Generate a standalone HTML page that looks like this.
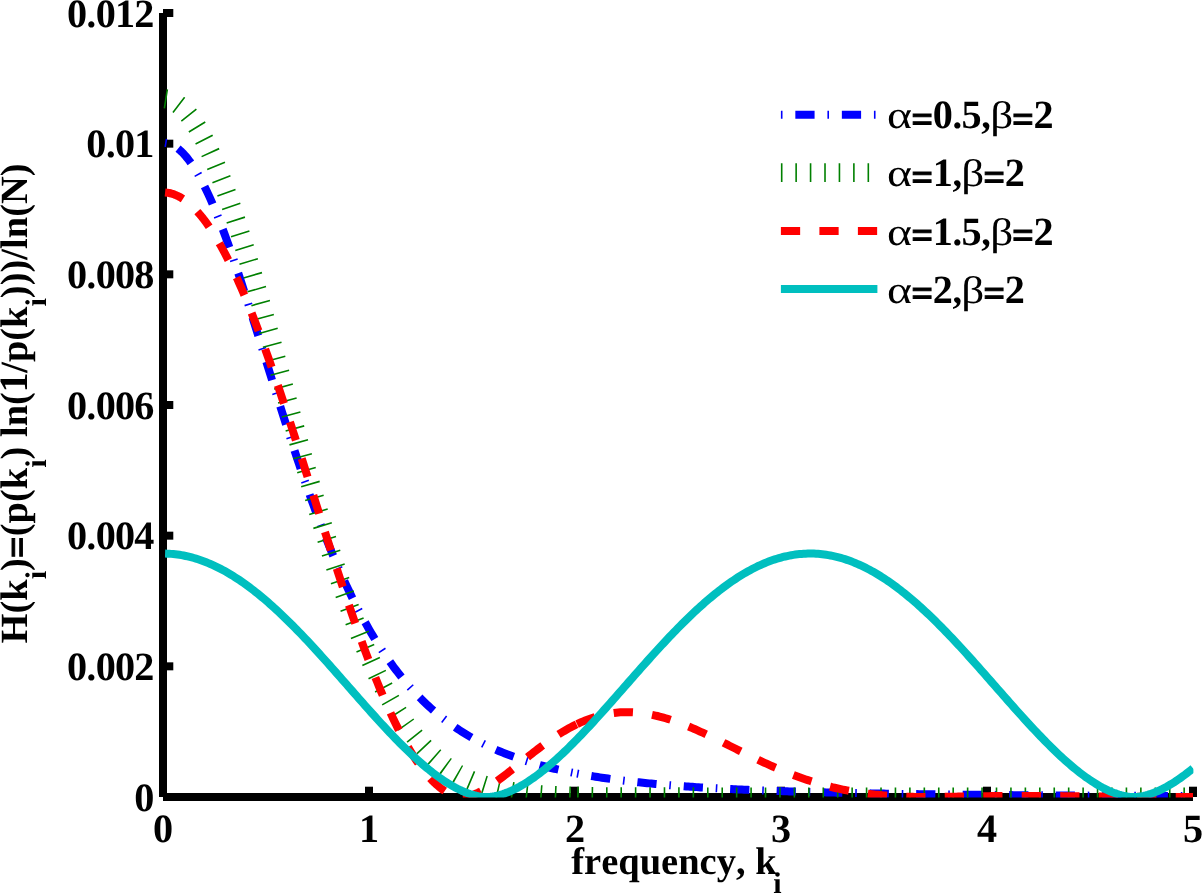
<!DOCTYPE html>
<html><head><meta charset="utf-8"><title>Entropy spectrum</title>
<style>html,body{margin:0;padding:0;background:#fff;}svg{display:block;}text{font-family:"Liberation Serif","DejaVu Serif",serif;font-weight:bold;fill:#000;font-kerning:none;font-variant-ligatures:none;text-rendering:geometricPrecision;}.g{font-weight:normal;}.e{stroke:#000;stroke-width:1.00px;}</style></head><body>
<svg width="1202" height="894" viewBox="0 0 1202 894">
<rect width="1202" height="894" fill="#fff"/>
<defs><clipPath id="c"><rect x="162.5" y="1.0" width="1030.9" height="796.4"/></clipPath></defs>
<g stroke="#000" stroke-width="8.00" fill="none" stroke-linecap="butt">
<path d="M163.0 13.0 V797.0"/>
<path d="M163.0 797.0 H1193.0"/>
<path d="M163.00 797.0 V786.7"/>
<path d="M369.00 797.0 V786.7"/>
<path d="M575.00 797.0 V786.7"/>
<path d="M781.00 797.0 V786.7"/>
<path d="M987.00 797.0 V786.7"/>
<path d="M1193.00 797.0 V786.7"/>
<path d="M163.0 797.00 H173.3"/>
<path d="M163.0 666.33 H173.3"/>
<path d="M163.0 535.67 H173.3"/>
<path d="M163.0 405.00 H173.3"/>
<path d="M163.0 274.33 H173.3"/>
<path d="M163.0 143.67 H173.3"/>
<path d="M163.0 13.00 H173.3"/>
</g>
<g clip-path="url(#c)" fill="none" stroke-linejoin="round" stroke-linecap="butt">
<path d="M165.06,142.79 L167.12,143.13 L169.18,143.69 L171.24,144.48 L173.30,145.49 L175.36,146.72 L177.42,148.17 L179.48,149.84 L181.54,151.72 L183.60,153.82 L185.66,156.13 L187.72,158.64 L189.78,161.36 L191.84,164.29 L193.90,167.40 L195.96,170.72 L198.02,174.22 L200.08,177.91 L202.14,181.77 L204.20,185.81 L206.26,190.03 L208.32,194.40 L210.38,198.94 L212.44,203.64 L214.50,208.48 L216.56,213.46 L218.62,218.59 L220.68,223.84 L222.74,229.22 L224.80,234.73 L226.86,240.34 L228.92,246.07 L230.98,251.89 L233.04,257.81 L235.10,263.82 L237.16,269.92 L239.22,276.09 L241.28,282.33 L243.34,288.64 L245.40,295.00 L247.46,301.42 L249.52,307.89 L251.58,314.39 L253.64,320.94 L255.70,327.51 L257.76,334.11 L259.82,340.72 L261.88,347.35 L263.94,353.99 L266.00,360.64 L268.06,367.28 L270.12,373.91 L272.18,380.54 L274.24,387.14 L276.30,393.73 L278.36,400.30 L280.42,406.84 L282.48,413.34 L284.54,419.81 L286.60,426.24 L288.66,432.63 L290.72,438.98 L292.78,445.27 L294.84,451.51 L296.90,457.70 L298.96,463.83 L301.02,469.91 L303.08,475.92 L305.14,481.87 L307.20,487.75 L309.26,493.56 L311.32,499.31 L313.38,504.98 L315.44,510.59 L317.50,516.12 L319.56,521.57 L321.62,526.95 L323.68,532.26 L325.74,537.48 L327.80,542.63 L329.86,547.70 L331.92,552.69 L333.98,557.61 L336.04,562.44 L338.10,567.20 L340.16,571.87 L342.22,576.47 L344.28,580.98 L346.34,585.42 L348.40,589.78 L350.46,594.06 L352.52,598.27 L354.58,602.39 L356.64,606.44 L358.70,610.41 L360.76,614.31 L362.82,618.13 L364.88,621.88 L366.94,625.55 L369.00,629.15 L371.06,632.68 L373.12,636.14 L375.18,639.53 L377.24,642.84 L379.30,646.09 L381.36,649.28 L383.42,652.39 L385.48,655.44 L387.54,658.43 L389.60,661.35 L391.66,664.21 L393.72,667.01 L395.78,669.75 L397.84,672.43 L399.90,675.05 L401.96,677.62 L404.02,680.13 L406.08,682.58 L408.14,684.98 L410.20,687.33 L412.26,689.62 L414.32,691.86 L416.38,694.06 L418.44,696.20 L420.50,698.30 L422.56,700.35 L424.62,702.35 L426.68,704.31 L428.74,706.22 L430.80,708.09 L432.86,709.92 L434.92,711.71 L436.98,713.46 L439.04,715.16 L441.10,716.83 L443.16,718.46 L445.22,720.06 L447.28,721.61 L449.34,723.14 L451.40,724.63 L453.46,726.08 L455.52,727.50 L457.58,728.89 L459.64,730.25 L461.70,731.57 L463.76,732.87 L465.82,734.14 L467.88,735.38 L469.94,736.59 L472.00,737.77 L474.06,738.93 L476.12,740.06 L478.18,741.17 L480.24,742.25 L482.30,743.30 L484.36,744.34 L486.42,745.35 L488.48,746.33 L490.54,747.30 L492.60,748.24 L494.66,749.17 L496.72,750.07 L498.78,750.95 L500.84,751.81 L502.90,752.66 L504.96,753.48 L507.02,754.29 L509.08,755.08 L511.14,755.85 L513.20,756.61 L515.26,757.35 L517.32,758.07 L519.38,758.78 L521.44,759.47 L523.50,760.15 L525.56,760.81 L527.62,761.46 L529.68,762.09 L531.74,762.72 L533.80,763.32 L535.86,763.92 L537.92,764.50 L539.98,765.07 L542.04,765.63 L544.10,766.18 L546.16,766.71 L548.22,767.23 L550.28,767.75 L552.34,768.25 L554.40,768.74 L556.46,769.22 L558.52,769.69 L560.58,770.16 L562.64,770.61 L564.70,771.05 L566.76,771.49 L568.82,771.91 L570.88,772.33 L572.94,772.74 L575.00,773.14 L577.06,773.53 L577.40,773.59 M577.06,773.53 L579.12,773.91 L581.18,774.29 L583.24,774.66 L585.30,775.02 L587.36,775.38 L589.42,775.72 L591.48,776.06 L593.54,776.40 L595.60,776.73 L597.66,777.05 L599.72,777.36 L601.78,777.67 L603.84,777.98 L605.90,778.27 L607.96,778.56 L610.02,778.85 L612.08,779.13 L614.14,779.41 L616.20,779.68 L618.26,779.94 L620.32,780.20 L622.38,780.46 L624.44,780.71 L626.50,780.95 L628.56,781.19 L630.62,781.43 L632.68,781.66 L634.74,781.89 L636.80,782.11 L638.86,782.33 L640.92,782.55 L642.98,782.76 L645.04,782.97 L647.10,783.17 L649.16,783.37 L651.22,783.57 L653.28,783.76 L655.34,783.95 L657.40,784.14 L659.46,784.32 L661.52,784.50 L663.58,784.68 L665.64,784.85 L667.70,785.02 L669.76,785.19 L671.82,785.36 L673.88,785.52 L675.94,785.68 L678.00,785.83 L680.06,785.99 L682.12,786.14 L684.18,786.29 L686.24,786.43 L688.30,786.58 L690.36,786.72 L692.42,786.86 L694.48,786.99 L696.54,787.13 L698.60,787.26 L700.66,787.39 L702.72,787.52 L704.78,787.64 L706.84,787.77 L708.90,787.89 L710.96,788.01 L713.02,788.12 L715.08,788.24 L717.14,788.35 L719.20,788.46 L721.26,788.57 L723.32,788.68 L725.38,788.79 L727.44,788.89 L729.50,789.00 L731.56,789.10 L733.62,789.20 L735.68,789.30 L737.74,789.39 L739.80,789.49 L741.86,789.58 L743.92,789.67 L745.98,789.77 L748.04,789.86 L750.10,789.94 L752.16,790.03 L754.22,790.12 L756.28,790.20 L758.34,790.28 L760.40,790.36 L762.46,790.44 L764.52,790.52 L766.58,790.60 L768.64,790.68 L770.70,790.75 L772.76,790.83 L774.82,790.90 L776.88,790.97 L778.94,791.04 L781.00,791.11 L783.06,791.18 L785.12,791.25 L787.18,791.32 L789.24,791.38 L791.30,791.45 L793.36,791.51 L795.42,791.58 L797.48,791.64 L799.54,791.70 L801.60,791.76 L803.66,791.82 L805.72,791.88 L807.78,791.94 L809.84,792.00 L811.90,792.05 L813.96,792.11 L816.02,792.16 L818.08,792.22 L820.14,792.27 L822.20,792.32 L824.26,792.37 L826.32,792.42 L828.38,792.48 L830.44,792.52 L832.50,792.57 L834.56,792.62 L836.62,792.67 L838.68,792.72 L840.74,792.76 L842.80,792.81 L844.86,792.85 L846.92,792.90 L848.98,792.94 L851.04,792.99 L853.10,793.03 L855.16,793.07 L857.22,793.11 L859.28,793.15 L861.34,793.19 L863.40,793.23 L865.46,793.27 L867.52,793.31 L869.58,793.35 L871.64,793.39 L873.70,793.43 L875.76,793.46 L877.82,793.50 L879.88,793.54 L881.94,793.57 L884.00,793.61 L886.06,793.64 L888.12,793.67 L890.18,793.71 L892.24,793.74 L894.30,793.77 L896.36,793.81 L898.42,793.84 L900.48,793.87 L902.54,793.90 L904.60,793.93 L906.66,793.96 L908.72,793.99 L910.78,794.02 L912.84,794.05 L914.90,794.08 L916.96,794.11 L919.02,794.14 L921.08,794.17 L923.14,794.19 L925.20,794.22 L927.26,794.25 L929.32,794.27 L931.38,794.30 L933.44,794.33 L935.50,794.35 L937.56,794.38 L939.62,794.40 L941.68,794.43 L943.74,794.45 L945.80,794.48 L947.86,794.50 L949.92,794.52 L951.98,794.55 L954.04,794.57 L956.10,794.59 L958.16,794.61 L960.22,794.64 L962.28,794.66 L964.34,794.68 L966.40,794.70 L968.46,794.72 L970.52,794.74 L972.58,794.76 L974.64,794.78 L976.70,794.81 L978.76,794.83 L980.82,794.84 L982.88,794.86 L984.94,794.88 L987.00,794.90 L989.06,794.92 L991.12,794.94 L993.18,794.96 L995.24,794.98 L997.30,794.99 L999.36,795.01 L1001.42,795.03 L1003.48,795.05 L1005.54,795.07 L1007.60,795.08 L1009.66,795.10 L1011.72,795.12 L1013.78,795.13 L1015.84,795.15 L1017.90,795.16 L1019.96,795.18 L1022.02,795.20 L1024.08,795.21 L1026.14,795.23 L1028.20,795.24 L1030.26,795.26 L1032.32,795.27 L1034.38,795.29 L1036.44,795.30 L1038.50,795.32 L1040.56,795.33 L1042.62,795.34 L1044.68,795.36 L1046.74,795.37 L1048.80,795.39 L1050.86,795.40 L1052.92,795.41 L1054.98,795.43 L1057.04,795.44 L1059.10,795.45 L1061.16,795.47 L1063.22,795.48 L1065.28,795.49 L1067.34,795.50 L1069.40,795.52 L1071.46,795.53 L1073.52,795.54 L1075.58,795.55 L1077.64,795.56 L1079.70,795.58 L1081.76,795.59 L1083.82,795.60 L1085.88,795.61 L1087.94,795.62 L1090.00,795.63 L1092.06,795.64 L1094.12,795.65 L1096.18,795.66 L1098.24,795.68 L1100.30,795.69 L1102.36,795.70 L1104.42,795.71 L1106.48,795.72 L1108.54,795.73 L1110.60,795.74 L1112.66,795.75 L1114.72,795.76 L1116.78,795.77 L1118.84,795.78 L1120.90,795.79 L1122.96,795.80 L1125.02,795.81 L1127.08,795.81 L1129.14,795.82 L1131.20,795.83 L1133.26,795.84 L1135.32,795.85 L1137.38,795.86 L1139.44,795.87 L1141.50,795.88 L1143.56,795.89 L1145.62,795.89 L1147.68,795.90 L1149.74,795.91 L1151.80,795.92 L1153.86,795.93 L1155.92,795.94 L1157.98,795.94 L1160.04,795.95 L1162.10,795.96 L1164.16,795.97 L1166.22,795.97 L1168.28,795.98 L1170.34,795.99 L1172.40,796.00 L1174.46,796.00 L1176.52,796.01 L1178.58,796.02 L1180.64,796.03 L1182.70,796.03 L1184.76,796.04 L1186.82,796.05 L1188.88,796.05 L1190.94,796.06 L1193.00,796.07" stroke="#0000ff" stroke-width="8.00" stroke-dasharray="1.604 12.832 19.248 12.832"/>
<path d="M165.06,98.71 L167.12,99.03 L169.18,99.56 L171.24,100.30 L173.30,101.25 L175.36,102.41 L177.42,103.78 L179.48,105.35 L181.54,107.13 L183.60,109.12 L185.66,111.31 L187.72,113.70 L189.78,116.29 L191.84,119.08 L193.90,122.06 L195.96,125.24 L198.02,128.60 L200.08,132.16 L202.14,135.89 L204.20,139.81 L206.26,143.91 L208.32,148.18 L210.38,152.63 L212.44,157.24 L214.50,162.02 L216.56,166.95 L218.62,172.05 L220.68,177.29 L222.74,182.69 L224.80,188.23 L226.86,193.91 L228.92,199.72 L230.98,205.67 L233.04,211.74 L235.10,217.94 L237.16,224.25 L239.22,230.67 L241.28,237.20 L243.34,243.84 L245.40,250.57 L247.46,257.39 L249.52,264.30 L251.58,271.29 L253.64,278.37 L255.70,285.51 L257.76,292.72 L259.82,299.99 L261.88,307.31 L263.94,314.69 L266.00,322.12 L268.06,329.58 L270.12,337.09 L272.18,344.62 L274.24,352.18 L276.30,359.76 L278.36,367.35 L280.42,374.96 L282.48,382.57 L284.54,390.18 L286.60,397.79 L288.66,405.39 L290.72,412.98 L292.78,420.55 L294.84,428.10 L296.90,435.62 L298.96,443.11 L301.02,450.57 L303.08,457.98 L305.14,465.36 L307.20,472.69 L309.26,479.96 L311.32,487.19 L313.38,494.35 L315.44,501.46 L317.50,508.50 L319.56,515.47 L321.62,522.38 L323.68,529.21 L325.74,535.96 L327.80,542.64 L329.86,549.23 L331.92,555.74 L333.98,562.17 L336.04,568.50 L338.10,574.75 L340.16,580.90 L342.22,586.96 L344.28,592.93 L346.34,598.80 L348.40,604.57 L350.46,610.25 L352.52,615.82 L354.58,621.29 L356.64,626.66 L358.70,631.93 L360.76,637.09 L362.82,642.15 L364.88,647.11 L366.94,651.96 L369.00,656.71 L371.06,661.35 L373.12,665.89 L375.18,670.33 L377.24,674.66 L379.30,678.89 L381.36,683.02 L383.42,687.04 L385.48,690.96 L387.54,694.79 L389.60,698.51 L391.66,702.13 L393.72,705.65 L395.78,709.08 L397.84,712.41 L399.90,715.65 L401.96,718.79 L404.02,721.84 L406.08,724.80 L408.14,727.67 L410.20,730.46 L412.26,733.15 L414.32,735.76 L416.38,738.29 L418.44,740.73 L420.50,743.10 L422.56,745.38 L424.62,747.59 L426.68,749.72 L428.74,751.78 L430.80,753.76 L432.86,755.67 L434.92,757.52 L436.98,759.30 L439.04,761.01 L441.10,762.66 L443.16,764.24 L445.22,765.77 L447.28,767.23 L449.34,768.64 L451.40,769.99 L453.46,771.29 L455.52,772.53 L457.58,773.73 L459.64,774.87 L461.70,775.97 L463.76,777.02 L465.82,778.03 L467.88,778.99 L469.94,779.91 L472.00,780.79 L474.06,781.63 L476.12,782.43 L478.18,783.20 L480.24,783.93 L482.30,784.63 L484.36,785.29 L486.42,785.93 L488.48,786.53 L490.54,787.10 L492.60,787.65 L494.66,788.17 L496.72,788.67 L498.78,789.14 L500.84,789.58 L502.90,790.01 L504.96,790.41 L507.02,790.79 L509.08,791.16 L511.14,791.50 L513.20,791.82 L515.26,792.13 L517.32,792.42 L519.38,792.70 L521.44,792.96 L523.50,793.21 L525.56,793.44 L527.62,793.66 L529.68,793.87 L531.74,794.06 L533.80,794.25 L535.86,794.42 L537.92,794.59 L539.98,794.74 L542.04,794.89 L544.10,795.02 L546.16,795.15 L548.22,795.27 L550.28,795.39 L552.34,795.49 L554.40,795.60 L556.46,795.69 L558.52,795.78 L560.58,795.86 L562.64,795.94 L564.70,796.01 L566.76,796.08 L568.82,796.14 L570.88,796.20 L572.94,796.26 L575.00,796.31 L577.06,796.36 L577.41,796.37 M577.06,796.36 L579.12,796.41 L581.18,796.45 L583.24,796.49 L585.30,796.53 L587.36,796.56 L589.42,796.59 L591.48,796.62 L593.54,796.65 L595.60,796.68 L597.66,796.70 L599.72,796.72 L601.78,796.74 L603.84,796.76 L605.90,796.78 L607.96,796.80 L610.02,796.81 L612.08,796.83 L614.14,796.84 L616.20,796.85 L618.26,796.87 L620.32,796.88 L622.38,796.89 L624.44,796.90 L626.50,796.90 L628.56,796.91 L630.62,796.92 L632.68,796.92 L634.74,796.93 L636.80,796.94 L638.86,796.94 L640.92,796.95 L642.98,796.95 L645.04,796.96 L647.10,796.96 L649.16,796.96 L651.22,796.97 L653.28,796.97 L655.34,796.97 L657.40,796.97 L659.46,796.98 L661.52,796.98 L663.58,796.98 L665.64,796.98 L667.70,796.98 L669.76,796.98 L671.82,796.99 L673.88,796.99 L675.94,796.99 L678.00,796.99 L680.06,796.99 L682.12,796.99 L684.18,796.99 L686.24,796.99 L688.30,796.99 L690.36,796.99 L692.42,796.99 L694.48,797.00 L696.54,797.00 L698.60,797.00 L700.66,797.00 L702.72,797.00 L704.78,797.00 L706.84,797.00 L708.90,797.00 L710.96,797.00 L713.02,797.00 L715.08,797.00 L717.14,797.00 L719.20,797.00 L721.26,797.00 L723.32,797.00 L725.38,797.00 L727.44,797.00 L729.50,797.00 L731.56,797.00 L733.62,797.00 L735.68,797.00 L737.74,797.00 L739.80,797.00 L741.86,797.00 L743.92,797.00 L745.98,797.00 L748.04,797.00 L750.10,797.00 L752.16,797.00 L754.22,797.00 L756.28,797.00 L758.34,797.00 L760.40,797.00 L762.46,797.00 L764.52,797.00 L766.58,797.00 L768.64,797.00 L770.70,797.00 L772.76,797.00 L774.82,797.00 L776.88,797.00 L778.94,797.00 L781.00,797.00 L783.06,797.00 L785.12,797.00 L787.18,797.00 L789.24,797.00 L791.30,797.00 L793.36,797.00 L795.42,797.00 L797.48,797.00 L799.54,797.00 L801.60,797.00 L803.66,797.00 L805.72,797.00 L807.78,797.00 L809.84,797.00 L811.90,797.00 L813.96,797.00 L816.02,797.00 L818.08,797.00 L820.14,797.00 L822.20,797.00 L824.26,797.00 L826.32,797.00 L828.38,797.00 L830.44,797.00 L832.50,797.00 L834.56,797.00 L836.62,797.00 L838.68,797.00 L840.74,797.00 L842.80,797.00 L844.86,797.00 L846.92,797.00 L848.98,797.00 L851.04,797.00 L853.10,797.00 L855.16,797.00 L857.22,797.00 L859.28,797.00 L861.34,797.00 L863.40,797.00 L865.46,797.00 L867.52,797.00 L869.58,797.00 L871.64,797.00 L873.70,797.00 L875.76,797.00 L877.82,797.00 L879.88,797.00 L881.94,797.00 L884.00,797.00 L886.06,797.00 L888.12,797.00 L890.18,797.00 L892.24,797.00 L894.30,797.00 L896.36,797.00 L898.42,797.00 L900.48,797.00 L902.54,797.00 L904.60,797.00 L906.66,797.00 L908.72,797.00 L910.78,797.00 L912.84,797.00 L914.90,797.00 L916.96,797.00 L919.02,797.00 L921.08,797.00 L923.14,797.00 L925.20,797.00 L927.26,797.00 L929.32,797.00 L931.38,797.00 L933.44,797.00 L935.50,797.00 L937.56,797.00 L939.62,797.00 L941.68,797.00 L943.74,797.00 L945.80,797.00 L947.86,797.00 L949.92,797.00 L951.98,797.00 L954.04,797.00 L956.10,797.00 L958.16,797.00 L960.22,797.00 L962.28,797.00 L964.34,797.00 L966.40,797.00 L968.46,797.00 L970.52,797.00 L972.58,797.00 L974.64,797.00 L976.70,797.00 L978.76,797.00 L980.82,797.00 L982.88,797.00 L984.94,797.00 L987.00,797.00 L989.06,797.00 L991.12,797.00 L993.18,797.00 L995.24,797.00 L997.30,797.00 L999.36,797.00 L1001.42,797.00 L1003.48,797.00 L1005.54,797.00 L1007.60,797.00 L1009.66,797.00 L1011.72,797.00 L1013.78,797.00 L1015.84,797.00 L1017.90,797.00 L1019.96,797.00 L1022.02,797.00 L1024.08,797.00 L1026.14,797.00 L1028.20,797.00 L1030.26,797.00 L1032.32,797.00 L1034.38,797.00 L1036.44,797.00 L1038.50,797.00 L1040.56,797.00 L1042.62,797.00 L1044.68,797.00 L1046.74,797.00 L1048.80,797.00 L1050.86,797.00 L1052.92,797.00 L1054.98,797.00 L1057.04,797.00 L1059.10,797.00 L1061.16,797.00 L1063.22,797.00 L1065.28,797.00 L1067.34,797.00 L1069.40,797.00 L1071.46,797.00 L1073.52,797.00 L1075.58,797.00 L1077.64,797.00 L1079.70,797.00 L1081.76,797.00 L1083.82,797.00 L1085.88,797.00 L1087.94,797.00 L1090.00,797.00 L1092.06,797.00 L1094.12,797.00 L1096.18,797.00 L1098.24,797.00 L1100.30,797.00 L1102.36,797.00 L1104.42,797.00 L1106.48,797.00 L1108.54,797.00 L1110.60,797.00 L1112.66,797.00 L1114.72,797.00 L1116.78,797.00 L1118.84,797.00 L1120.90,797.00 L1122.96,797.00 L1125.02,797.00 L1127.08,797.00 L1129.14,797.00 L1131.20,797.00 L1133.26,797.00 L1135.32,797.00 L1137.38,797.00 L1139.44,797.00 L1141.50,797.00 L1143.56,797.00 L1145.62,797.00 L1147.68,797.00 L1149.74,797.00 L1151.80,797.00 L1153.86,797.00 L1155.92,797.00 L1157.98,797.00 L1160.04,797.00 L1162.10,797.00 L1164.16,797.00 L1166.22,797.00 L1168.28,797.00 L1170.34,797.00 L1172.40,797.00 L1174.46,797.00 L1176.52,797.00 L1178.58,797.00 L1180.64,797.00 L1182.70,797.00 L1184.76,797.00 L1186.82,797.00 L1188.88,797.00 L1190.94,797.00 L1193.00,797.00" stroke="#008000" stroke-width="19.25" stroke-dasharray="1.604 12.832"/>
<path d="M165.06,192.45 L167.12,192.66 L169.18,193.00 L171.24,193.49 L173.30,194.12 L175.36,194.89 L177.42,195.80 L179.48,196.84 L181.54,198.02 L183.60,199.34 L185.66,200.80 L187.72,202.39 L189.78,204.12 L191.84,205.98 L193.90,207.97 L195.96,210.10 L198.02,212.36 L200.08,214.75 L202.14,217.27 L204.20,219.92 L206.26,222.70 L208.32,225.60 L210.38,228.63 L212.44,231.78 L214.50,235.06 L216.56,238.45 L218.62,241.97 L220.68,245.60 L222.74,249.34 L224.80,253.21 L226.86,257.18 L228.92,261.26 L230.98,265.46 L233.04,269.76 L235.10,274.16 L237.16,278.67 L239.22,283.28 L241.28,287.98 L243.34,292.79 L245.40,297.69 L247.46,302.67 L249.52,307.75 L251.58,312.92 L253.64,318.17 L255.70,323.51 L257.76,328.92 L259.82,334.41 L261.88,339.98 L263.94,345.62 L266.00,351.33 L268.06,357.11 L270.12,362.95 L272.18,368.85 L274.24,374.81 L276.30,380.83 L278.36,386.90 L280.42,393.02 L282.48,399.19 L284.54,405.40 L286.60,411.65 L288.66,417.95 L290.72,424.28 L292.78,430.64 L294.84,437.03 L296.90,443.45 L298.96,449.89 L301.02,456.35 L303.08,462.83 L305.14,469.33 L307.20,475.83 L309.26,482.35 L311.32,488.86 L313.38,495.39 L315.44,501.91 L317.50,508.42 L319.56,514.93 L321.62,521.43 L323.68,527.91 L325.74,534.38 L327.80,540.83 L329.86,547.26 L331.92,553.66 L333.98,560.03 L336.04,566.37 L338.10,572.68 L340.16,578.94 L342.22,585.17 L344.28,591.36 L346.34,597.49 L348.40,603.58 L350.46,609.62 L352.52,615.60 L354.58,621.52 L356.64,627.39 L358.70,633.19 L360.76,638.92 L362.82,644.59 L364.88,650.18 L366.94,655.70 L369.00,661.15 L371.06,666.52 L373.12,671.80 L375.18,677.01 L377.24,682.13 L379.30,687.16 L381.36,692.10 L383.42,696.94 L385.48,701.70 L387.54,706.36 L389.60,710.92 L391.66,715.38 L393.72,719.74 L395.78,723.99 L397.84,728.14 L399.90,732.19 L401.96,736.12 L404.02,739.94 L406.08,743.65 L408.14,747.25 L410.20,750.74 L412.26,754.11 L414.32,757.36 L416.38,760.49 L418.44,763.50 L420.50,766.39 L422.56,769.16 L424.62,771.81 L426.68,774.33 L428.74,776.73 L430.80,779.00 L432.86,781.14 L434.92,783.16 L436.98,785.05 L439.04,786.80 L441.10,788.43 L443.16,789.92 L445.22,791.28 L447.28,792.50 L449.34,793.58 L451.40,794.53 L453.46,795.33 L455.52,795.98 L457.58,796.48 L459.64,796.83 L461.70,796.99 L463.76,796.94 L465.82,796.70 L467.88,796.31 L469.94,795.79 L472.00,795.15 L474.06,794.40 L476.12,793.56 L478.18,792.63 L480.24,791.62 L482.30,790.53 L484.36,789.38 L486.42,788.16 L488.48,786.88 L490.54,785.55 L492.60,784.17 L494.66,782.75 L496.72,781.29 L498.78,779.80 L500.84,778.27 L502.90,776.72 L504.96,775.14 L507.02,773.54 L509.08,771.93 L511.14,770.29 L513.20,768.65 L515.26,767.00 L517.32,765.35 L519.38,763.69 L521.44,762.03 L523.50,760.37 L525.56,758.72 L527.62,757.08 L529.68,755.44 L531.74,753.81 L533.80,752.20 L535.86,750.60 L537.92,749.02 L539.98,747.46 L542.04,745.92 L544.10,744.40 L546.16,742.90 L548.22,741.43 L550.28,739.98 L552.34,738.57 L554.40,737.18 L556.46,735.82 L558.52,734.49 L560.58,733.20 L562.64,731.93 L564.70,730.71 L566.76,729.51 L568.82,728.35 L570.88,727.23 L572.94,726.15 L575.00,725.10 L577.06,724.10 L577.38,723.95 M577.06,724.10 L579.12,723.13 L581.18,722.20 L583.24,721.31 L585.30,720.46 L587.36,719.66 L589.42,718.89 L591.48,718.16 L593.54,717.48 L595.60,716.84 L597.66,716.24 L599.72,715.68 L601.78,715.16 L603.84,714.68 L605.90,714.25 L607.96,713.86 L610.02,713.51 L612.08,713.19 L614.14,712.93 L616.20,712.70 L618.26,712.51 L620.32,712.36 L622.38,712.25 L624.44,712.18 L626.50,712.15 L628.56,712.16 L630.62,712.21 L632.68,712.29 L634.74,712.41 L636.80,712.57 L638.86,712.76 L640.92,712.99 L642.98,713.25 L645.04,713.55 L647.10,713.88 L649.16,714.24 L651.22,714.64 L653.28,715.07 L655.34,715.53 L657.40,716.01 L659.46,716.53 L661.52,717.08 L663.58,717.65 L665.64,718.25 L667.70,718.88 L669.76,719.53 L671.82,720.20 L673.88,720.90 L675.94,721.63 L678.00,722.37 L680.06,723.14 L682.12,723.92 L684.18,724.73 L686.24,725.55 L688.30,726.40 L690.36,727.26 L692.42,728.13 L694.48,729.02 L696.54,729.93 L698.60,730.85 L700.66,731.78 L702.72,732.72 L704.78,733.68 L706.84,734.64 L708.90,735.62 L710.96,736.60 L713.02,737.59 L715.08,738.59 L717.14,739.59 L719.20,740.60 L721.26,741.62 L723.32,742.64 L725.38,743.66 L727.44,744.68 L729.50,745.71 L731.56,746.73 L733.62,747.76 L735.68,748.79 L737.74,749.81 L739.80,750.84 L741.86,751.86 L743.92,752.88 L745.98,753.89 L748.04,754.90 L750.10,755.91 L752.16,756.91 L754.22,757.90 L756.28,758.89 L758.34,759.87 L760.40,760.84 L762.46,761.80 L764.52,762.76 L766.58,763.71 L768.64,764.64 L770.70,765.57 L772.76,766.49 L774.82,767.39 L776.88,768.29 L778.94,769.17 L781.00,770.04 L783.06,770.90 L785.12,771.74 L787.18,772.58 L789.24,773.40 L791.30,774.20 L793.36,774.99 L795.42,775.77 L797.48,776.54 L799.54,777.29 L801.60,778.02 L803.66,778.75 L805.72,779.45 L807.78,780.14 L809.84,780.82 L811.90,781.48 L813.96,782.13 L816.02,782.76 L818.08,783.38 L820.14,783.98 L822.20,784.56 L824.26,785.13 L826.32,785.69 L828.38,786.23 L830.44,786.75 L832.50,787.26 L834.56,787.75 L836.62,788.23 L838.68,788.69 L840.74,789.14 L842.80,789.58 L844.86,789.99 L846.92,790.40 L848.98,790.79 L851.04,791.16 L853.10,791.53 L855.16,791.87 L857.22,792.21 L859.28,792.53 L861.34,792.83 L863.40,793.13 L865.46,793.41 L867.52,793.68 L869.58,793.93 L871.64,794.18 L873.70,794.41 L875.76,794.63 L877.82,794.83 L879.88,795.03 L881.94,795.22 L884.00,795.39 L886.06,795.55 L888.12,795.71 L890.18,795.85 L892.24,795.98 L894.30,796.11 L896.36,796.22 L898.42,796.33 L900.48,796.43 L902.54,796.51 L904.60,796.60 L906.66,796.67 L908.72,796.73 L910.78,796.79 L912.84,796.84 L914.90,796.88 L916.96,796.92 L919.02,796.95 L921.08,796.97 L923.14,796.99 L925.20,797.00 L927.26,797.00 L929.32,797.00 L931.38,796.99 L933.44,796.97 L935.50,796.96 L937.56,796.94 L939.62,796.91 L941.68,796.89 L943.74,796.86 L945.80,796.83 L947.86,796.79 L949.92,796.76 L951.98,796.73 L954.04,796.69 L956.10,796.66 L958.16,796.62 L960.22,796.58 L962.28,796.55 L964.34,796.51 L966.40,796.47 L968.46,796.44 L970.52,796.40 L972.58,796.37 L974.64,796.34 L976.70,796.30 L978.76,796.27 L980.82,796.24 L982.88,796.21 L984.94,796.18 L987.00,796.16 L989.06,796.13 L991.12,796.11 L993.18,796.08 L995.24,796.06 L997.30,796.04 L999.36,796.02 L1001.42,796.01 L1003.48,795.99 L1005.54,795.98 L1007.60,795.97 L1009.66,795.95 L1011.72,795.94 L1013.78,795.94 L1015.84,795.93 L1017.90,795.93 L1019.96,795.92 L1022.02,795.92 L1024.08,795.92 L1026.14,795.92 L1028.20,795.92 L1030.26,795.92 L1032.32,795.93 L1034.38,795.94 L1036.44,795.94 L1038.50,795.95 L1040.56,795.96 L1042.62,795.97 L1044.68,795.98 L1046.74,796.00 L1048.80,796.01 L1050.86,796.02 L1052.92,796.04 L1054.98,796.05 L1057.04,796.07 L1059.10,796.09 L1061.16,796.11 L1063.22,796.13 L1065.28,796.15 L1067.34,796.17 L1069.40,796.19 L1071.46,796.21 L1073.52,796.23 L1075.58,796.25 L1077.64,796.27 L1079.70,796.30 L1081.76,796.32 L1083.82,796.34 L1085.88,796.36 L1087.94,796.39 L1090.00,796.41 L1092.06,796.43 L1094.12,796.45 L1096.18,796.48 L1098.24,796.50 L1100.30,796.52 L1102.36,796.54 L1104.42,796.57 L1106.48,796.59 L1108.54,796.61 L1110.60,796.63 L1112.66,796.65 L1114.72,796.67 L1116.78,796.69 L1118.84,796.71 L1120.90,796.73 L1122.96,796.75 L1125.02,796.76 L1127.08,796.78 L1129.14,796.80 L1131.20,796.81 L1133.26,796.83 L1135.32,796.84 L1137.38,796.86 L1139.44,796.87 L1141.50,796.89 L1143.56,796.90 L1145.62,796.91 L1147.68,796.92 L1149.74,796.93 L1151.80,796.94 L1153.86,796.95 L1155.92,796.96 L1157.98,796.97 L1160.04,796.97 L1162.10,796.98 L1164.16,796.98 L1166.22,796.99 L1168.28,796.99 L1170.34,797.00 L1172.40,797.00 L1174.46,797.00 L1176.52,797.00 L1178.58,797.00 L1180.64,797.00 L1182.70,797.00 L1184.76,796.99 L1186.82,796.99 L1188.88,796.99 L1190.94,796.98 L1193.00,796.98 M575.17,725.02 L576.61,724.32" stroke="#ff0000" stroke-width="8.00" stroke-dasharray="19.248 19.248"/>
<path d="M165.06,553.58 L167.12,553.64 L169.18,553.74 L171.24,553.88 L173.30,554.05 L175.36,554.27 L177.42,554.53 L179.48,554.83 L181.54,555.17 L183.60,555.54 L185.66,555.96 L187.72,556.41 L189.78,556.91 L191.84,557.44 L193.90,558.01 L195.96,558.62 L198.02,559.27 L200.08,559.96 L202.14,560.68 L204.20,561.44 L206.26,562.24 L208.32,563.08 L210.38,563.96 L212.44,564.87 L214.50,565.82 L216.56,566.80 L218.62,567.82 L220.68,568.88 L222.74,569.97 L224.80,571.10 L226.86,572.27 L228.92,573.46 L230.98,574.70 L233.04,575.96 L235.10,577.26 L237.16,578.60 L239.22,579.96 L241.28,581.36 L243.34,582.79 L245.40,584.26 L247.46,585.75 L249.52,587.28 L251.58,588.84 L253.64,590.42 L255.70,592.04 L257.76,593.68 L259.82,595.36 L261.88,597.06 L263.94,598.79 L266.00,600.55 L268.06,602.34 L270.12,604.15 L272.18,605.98 L274.24,607.85 L276.30,609.73 L278.36,611.64 L280.42,613.58 L282.48,615.54 L284.54,617.52 L286.60,619.52 L288.66,621.54 L290.72,623.59 L292.78,625.65 L294.84,627.74 L296.90,629.84 L298.96,631.96 L301.02,634.10 L303.08,636.25 L305.14,638.43 L307.20,640.61 L309.26,642.82 L311.32,645.03 L313.38,647.26 L315.44,649.51 L317.50,651.76 L319.56,654.03 L321.62,656.31 L323.68,658.60 L325.74,660.89 L327.80,663.20 L329.86,665.51 L331.92,667.84 L333.98,670.16 L336.04,672.49 L338.10,674.83 L340.16,677.17 L342.22,679.52 L344.28,681.86 L346.34,684.21 L348.40,686.56 L350.46,688.91 L352.52,691.26 L354.58,693.61 L356.64,695.95 L358.70,698.29 L360.76,700.63 L362.82,702.96 L364.88,705.29 L366.94,707.61 L369.00,709.92 L371.06,712.22 L373.12,714.51 L375.18,716.80 L377.24,719.07 L379.30,721.33 L381.36,723.58 L383.42,725.81 L385.48,728.03 L387.54,730.23 L389.60,732.42 L391.66,734.59 L393.72,736.74 L395.78,738.87 L397.84,740.98 L399.90,743.07 L401.96,745.13 L404.02,747.18 L406.08,749.20 L408.14,751.19 L410.20,753.16 L412.26,755.10 L414.32,757.01 L416.38,758.89 L418.44,760.75 L420.50,762.57 L422.56,764.36 L424.62,766.11 L426.68,767.84 L428.74,769.52 L430.80,771.17 L432.86,772.78 L434.92,774.36 L436.98,775.89 L439.04,777.38 L441.10,778.83 L443.16,780.24 L445.22,781.60 L447.28,782.92 L449.34,784.18 L451.40,785.40 L453.46,786.58 L455.52,787.69 L457.58,788.76 L459.64,789.77 L461.70,790.73 L463.76,791.62 L465.82,792.46 L467.88,793.24 L469.94,793.95 L472.00,794.60 L474.06,795.18 L476.12,795.69 L478.18,796.12 L480.24,796.48 L482.30,796.75 L484.36,796.92 L486.42,797.00 L488.48,796.94 L490.54,796.78 L492.60,796.52 L494.66,796.18 L496.72,795.76 L498.78,795.27 L500.84,794.70 L502.90,794.06 L504.96,793.36 L507.02,792.59 L509.08,791.76 L511.14,790.87 L513.20,789.93 L515.26,788.92 L517.32,787.87 L519.38,786.76 L521.44,785.59 L523.50,784.38 L525.56,783.12 L527.62,781.81 L529.68,780.46 L531.74,779.06 L533.80,777.62 L535.86,776.13 L537.92,774.60 L539.98,773.04 L542.04,771.43 L544.10,769.79 L546.16,768.11 L548.22,766.39 L550.28,764.64 L552.34,762.86 L554.40,761.04 L556.46,759.19 L558.52,757.31 L560.58,755.40 L562.64,753.47 L564.70,751.50 L566.76,749.51 L568.82,747.50 L570.88,745.46 L572.94,743.40 L575.00,741.31 L577.06,739.20 L579.12,737.08 L581.18,734.93 L583.24,732.76 L585.30,730.58 L587.36,728.38 L589.42,726.16 L591.48,723.93 L593.54,721.69 L595.60,719.43 L597.66,717.16 L599.72,714.88 L601.78,712.59 L603.84,710.28 L605.90,707.97 L607.96,705.66 L610.02,703.33 L612.08,701.00 L614.14,698.66 L616.20,696.32 L618.26,693.98 L620.32,691.63 L622.38,689.29 L624.44,686.94 L626.50,684.59 L628.56,682.24 L630.62,679.89 L632.68,677.55 L634.74,675.20 L636.80,672.87 L638.86,670.53 L640.92,668.21 L642.98,665.88 L645.04,663.57 L647.10,661.26 L649.16,658.96 L651.22,656.67 L653.28,654.39 L655.34,652.12 L657.40,649.87 L659.46,647.62 L661.52,645.39 L663.58,643.17 L665.64,640.96 L667.70,638.77 L669.76,636.60 L671.82,634.44 L673.88,632.30 L675.94,630.18 L678.00,628.07 L680.06,625.98 L682.12,623.91 L684.18,621.87 L686.24,619.84 L688.30,617.83 L690.36,615.85 L692.42,613.89 L694.48,611.95 L696.54,610.04 L698.60,608.14 L700.66,606.28 L702.72,604.44 L704.78,602.62 L706.84,600.83 L708.90,599.07 L710.96,597.34 L713.02,595.63 L715.08,593.95 L717.14,592.30 L719.20,590.68 L721.26,589.09 L723.32,587.52 L725.38,585.99 L727.44,584.49 L729.50,583.03 L731.56,581.59 L733.62,580.18 L735.68,578.81 L737.74,577.47 L739.80,576.17 L741.86,574.90 L743.92,573.66 L745.98,572.45 L748.04,571.28 L750.10,570.15 L752.16,569.05 L754.22,567.99 L756.28,566.96 L758.34,565.97 L760.40,565.02 L762.46,564.10 L764.52,563.22 L766.58,562.37 L768.64,561.57 L770.70,560.80 L772.76,560.07 L774.82,559.38 L776.88,558.72 L778.94,558.10 L781.00,557.53 L783.06,556.99 L785.12,556.49 L787.18,556.03 L789.24,555.61 L791.30,555.22 L793.36,554.88 L795.42,554.58 L797.48,554.31 L799.54,554.09 L801.60,553.90 L803.66,553.76 L805.72,553.65 L807.78,553.58 L809.84,553.56 L811.90,553.57 L813.96,553.62 L816.02,553.72 L818.08,553.85 L820.14,554.02 L822.20,554.24 L824.26,554.49 L826.32,554.78 L828.38,555.11 L830.44,555.48 L832.50,555.89 L834.56,556.34 L836.62,556.82 L838.68,557.35 L840.74,557.92 L842.80,558.52 L844.86,559.16 L846.92,559.84 L848.98,560.56 L851.04,561.32 L853.10,562.11 L855.16,562.94 L857.22,563.81 L859.28,564.72 L861.34,565.66 L863.40,566.64 L865.46,567.66 L867.52,568.71 L869.58,569.80 L871.64,570.92 L873.70,572.08 L875.76,573.27 L877.82,574.50 L879.88,575.76 L881.94,577.05 L884.00,578.38 L886.06,579.74 L888.12,581.14 L890.18,582.56 L892.24,584.02 L894.30,585.51 L896.36,587.03 L898.42,588.59 L900.48,590.17 L902.54,591.78 L904.60,593.42 L906.66,595.09 L908.72,596.79 L910.78,598.51 L912.84,600.27 L914.90,602.05 L916.96,603.86 L919.02,605.69 L921.08,607.55 L923.14,609.43 L925.20,611.34 L927.26,613.27 L929.32,615.22 L931.38,617.20 L933.44,619.20 L935.50,621.22 L937.56,623.26 L939.62,625.32 L941.68,627.40 L943.74,629.50 L945.80,631.62 L947.86,633.76 L949.92,635.91 L951.98,638.08 L954.04,640.27 L956.10,642.47 L958.16,644.68 L960.22,646.91 L962.28,649.15 L964.34,651.40 L966.40,653.67 L968.46,655.95 L970.52,658.23 L972.58,660.53 L974.64,662.83 L976.70,665.15 L978.76,667.46 L980.82,669.79 L982.88,672.12 L984.94,674.46 L987.00,676.80 L989.06,679.14 L991.12,681.49 L993.18,683.84 L995.24,686.19 L997.30,688.54 L999.36,690.89 L1001.42,693.23 L1003.48,695.58 L1005.54,697.92 L1007.60,700.26 L1009.66,702.59 L1011.72,704.92 L1013.78,707.24 L1015.84,709.55 L1017.90,711.85 L1019.96,714.15 L1022.02,716.43 L1024.08,718.71 L1026.14,720.97 L1028.20,723.22 L1030.26,725.45 L1032.32,727.68 L1034.38,729.88 L1036.44,732.07 L1038.50,734.24 L1040.56,736.39 L1042.62,738.53 L1044.68,740.64 L1046.74,742.73 L1048.80,744.80 L1050.86,746.85 L1052.92,748.88 L1054.98,750.87 L1057.04,752.85 L1059.10,754.79 L1061.16,756.71 L1063.22,758.60 L1065.28,760.45 L1067.34,762.28 L1069.40,764.08 L1071.46,765.84 L1073.52,767.56 L1075.58,769.26 L1077.64,770.91 L1079.70,772.53 L1081.76,774.11 L1083.82,775.65 L1085.88,777.15 L1087.94,778.60 L1090.00,780.02 L1092.06,781.39 L1094.12,782.71 L1096.18,783.99 L1098.24,785.21 L1100.30,786.39 L1102.36,787.52 L1104.42,788.59 L1106.48,789.61 L1108.54,790.58 L1110.60,791.49 L1112.66,792.33 L1114.72,793.12 L1116.78,793.84 L1118.84,794.50 L1120.90,795.09 L1122.96,795.61 L1125.02,796.06 L1127.08,796.42 L1129.14,796.71 L1131.20,796.90 L1133.26,797.00 L1135.32,796.96 L1137.38,796.81 L1139.44,796.57 L1141.50,796.24 L1143.56,795.83 L1145.62,795.35 L1147.68,794.79 L1149.74,794.17 L1151.80,793.47 L1153.86,792.72 L1155.92,791.90 L1157.98,791.02 L1160.04,790.08 L1162.10,789.09 L1164.16,788.04 L1166.22,786.94 L1168.28,785.78 L1170.34,784.58 L1172.40,783.33 L1174.46,782.02 L1176.52,780.68 L1178.58,779.29 L1180.64,777.85 L1182.70,776.37 L1184.76,774.85 L1186.82,773.29 L1188.88,771.69 L1190.94,770.05 L1193.00,768.38" stroke="#00bfbf" stroke-width="8.00"/>
</g>
<text x="134.32" y="810.60" font-size="40.23px">0</text>
<text x="66.94" y="679.93" font-size="40.23px">0</text>
<text x="86.62" y="679.93" font-size="38.50px" xml:space="preserve">.</text>
<text x="95.82 115.07 134.32" y="679.93" font-size="40.23px">002</text>
<text x="66.94" y="549.27" font-size="40.23px">0</text>
<text x="86.62" y="549.27" font-size="38.50px" xml:space="preserve">.</text>
<text x="95.82 115.07 134.32" y="549.27" font-size="40.23px">004</text>
<text x="66.94" y="418.60" font-size="40.23px">0</text>
<text x="86.62" y="418.60" font-size="38.50px" xml:space="preserve">.</text>
<text x="95.82 115.07 134.32" y="418.60" font-size="40.23px">006</text>
<text x="66.94" y="287.93" font-size="40.23px">0</text>
<text x="86.62" y="287.93" font-size="38.50px" xml:space="preserve">.</text>
<text x="95.82 115.07 134.32" y="287.93" font-size="40.23px">008</text>
<text x="86.19" y="157.27" font-size="40.23px">0</text>
<text x="105.88" y="157.27" font-size="38.50px" xml:space="preserve">.</text>
<text x="115.07 134.32" y="157.27" font-size="40.23px">01</text>
<text x="66.94" y="26.60" font-size="40.23px">0</text>
<text x="86.62" y="26.60" font-size="38.50px" xml:space="preserve">.</text>
<text x="95.82 115.07 134.32" y="26.60" font-size="40.23px">012</text>
<text x="152.94" y="841.70" font-size="40.23px">0</text>
<text x="358.94" y="841.70" font-size="40.23px">1</text>
<text x="564.94" y="841.70" font-size="40.23px">2</text>
<text x="770.94" y="841.70" font-size="40.23px">3</text>
<text x="976.94" y="841.70" font-size="40.23px">4</text>
<text x="1182.94" y="841.70" font-size="40.23px">5</text>
<text x="571.30" y="873.90" font-size="38.50px" xml:space="preserve">frequency, k</text>
<text x="773.32" y="893.30" font-size="30.00px" xml:space="preserve">i</text>
<g transform="translate(27.00,643.50) rotate(-90)">
<text x="0.00" y="0.00" font-size="38.50px" xml:space="preserve">H(k</text>
<text x="64.18" y="18.60" font-size="30.00px" xml:space="preserve">i</text>
<text x="72.51" y="0.00" font-size="38.50px" xml:space="preserve">)</text>
<text class="e" x="85.33" y="3.30" font-size="38.50px">=</text>
<text x="107.27" y="0.00" font-size="38.50px" xml:space="preserve">(p(k</text>
<text x="175.74" y="18.60" font-size="30.00px" xml:space="preserve">i</text>
<text x="184.07" y="0.00" font-size="38.50px" xml:space="preserve">) ln(</text>
<text x="251.02" y="0.00" font-size="40.23px">1</text>
<text x="270.70" y="0.00" font-size="38.50px" xml:space="preserve">/p(k</text>
<text x="337.04" y="18.60" font-size="30.00px" xml:space="preserve">i</text>
<text x="345.37" y="0.00" font-size="38.50px" xml:space="preserve">)))/ln(N)</text>
</g>
<g fill="none" stroke-linecap="butt">
<path d="M780.9 114.8 H877.4" stroke="#0000ff" stroke-width="8.00" stroke-dasharray="1.604 12.832 19.248 12.832"/>
<path d="M780.9 172.6 H877.4" stroke="#008000" stroke-width="18.55" stroke-dasharray="1.604 12.832"/>
<path d="M780.9 230.9 H877.4" stroke="#ff0000" stroke-width="8.00" stroke-dasharray="19.248 19.248"/>
<path d="M780.9 289.0 H877.4" stroke="#00bfbf" stroke-width="8.00"/>
</g>
<text class="g" transform="translate(886.90,128.40) scale(1.240,1)" font-size="38.50px">α</text>
<text class="e" x="911.19" y="131.70" font-size="38.50px">=</text>
<text x="932.70" y="128.40" font-size="40.23px">0</text>
<text x="952.38" y="128.40" font-size="38.50px" xml:space="preserve">.</text>
<text x="961.57" y="128.40" font-size="40.23px">5</text>
<text x="981.26" y="128.40" font-size="38.50px" xml:space="preserve">,</text>
<text class="g" transform="translate(990.18,128.40) scale(1.175,1)" font-size="38.50px">β</text>
<text class="e" x="1012.02" y="131.70" font-size="38.50px">=</text>
<text x="1033.52" y="128.40" font-size="40.23px">2</text>
<text class="g" transform="translate(886.90,186.20) scale(1.240,1)" font-size="38.50px">α</text>
<text class="e" x="911.19" y="189.50" font-size="38.50px">=</text>
<text x="932.70" y="186.20" font-size="40.23px">1</text>
<text x="952.38" y="186.20" font-size="38.50px" xml:space="preserve">,</text>
<text class="g" transform="translate(961.31,186.20) scale(1.175,1)" font-size="38.50px">β</text>
<text class="e" x="983.14" y="189.50" font-size="38.50px">=</text>
<text x="1004.65" y="186.20" font-size="40.23px">2</text>
<text class="g" transform="translate(886.90,244.50) scale(1.240,1)" font-size="38.50px">α</text>
<text class="e" x="911.19" y="247.80" font-size="38.50px">=</text>
<text x="932.70" y="244.50" font-size="40.23px">1</text>
<text x="952.38" y="244.50" font-size="38.50px" xml:space="preserve">.</text>
<text x="961.57" y="244.50" font-size="40.23px">5</text>
<text x="981.26" y="244.50" font-size="38.50px" xml:space="preserve">,</text>
<text class="g" transform="translate(990.18,244.50) scale(1.175,1)" font-size="38.50px">β</text>
<text class="e" x="1012.02" y="247.80" font-size="38.50px">=</text>
<text x="1033.52" y="244.50" font-size="40.23px">2</text>
<text class="g" transform="translate(886.90,302.60) scale(1.240,1)" font-size="38.50px">α</text>
<text class="e" x="911.19" y="305.90" font-size="38.50px">=</text>
<text x="932.70" y="302.60" font-size="40.23px">2</text>
<text x="952.38" y="302.60" font-size="38.50px" xml:space="preserve">,</text>
<text class="g" transform="translate(961.31,302.60) scale(1.175,1)" font-size="38.50px">β</text>
<text class="e" x="983.14" y="305.90" font-size="38.50px">=</text>
<text x="1004.65" y="302.60" font-size="40.23px">2</text>
</svg></body></html>
